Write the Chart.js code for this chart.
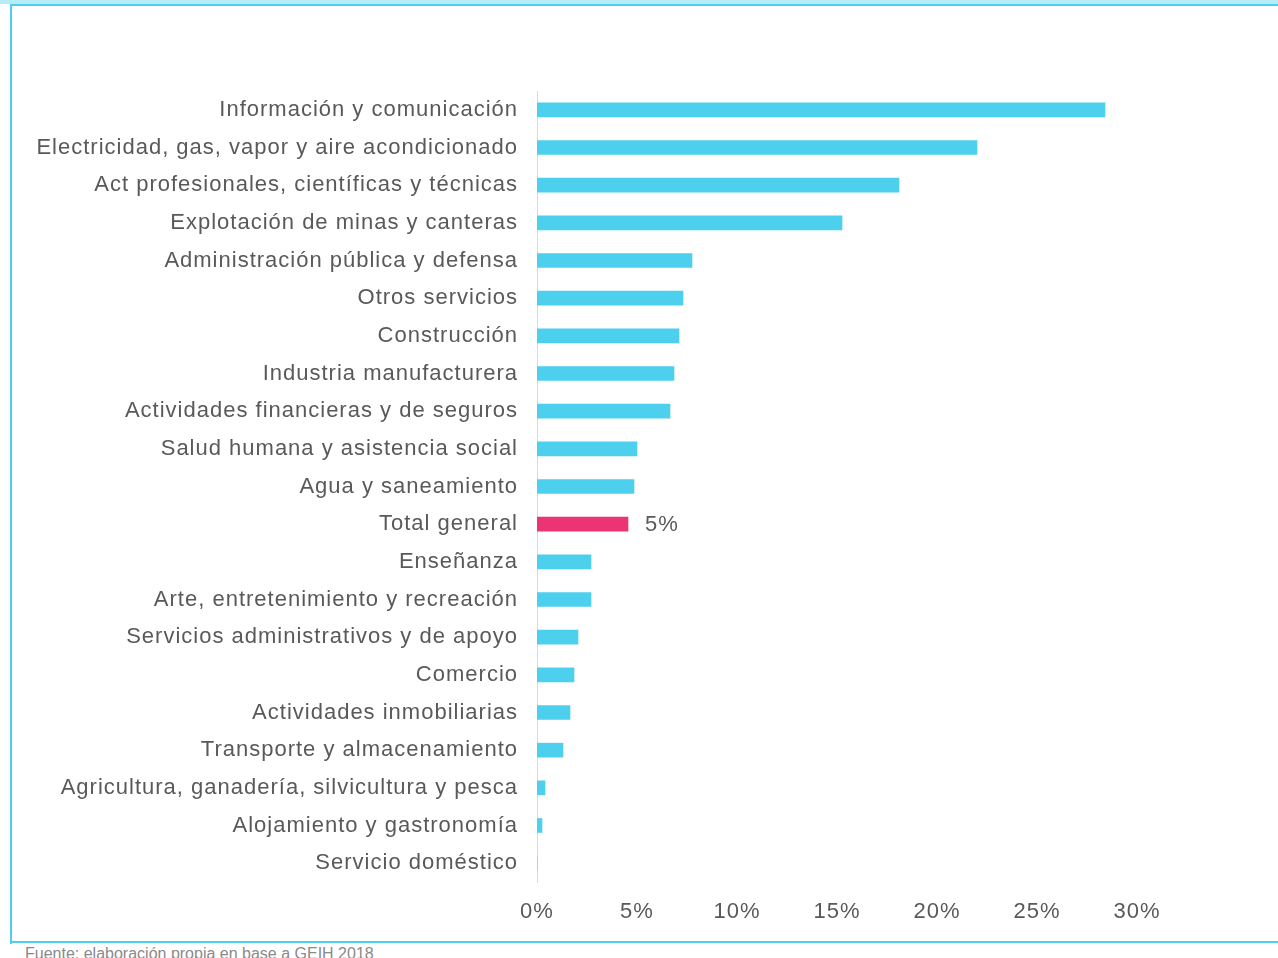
<!DOCTYPE html>
<html>
<head>
<meta charset="utf-8">
<script src="https://cdn.jsdelivr.net/npm/chart.js@4.4.0/dist/chart.umd.min.js"></script>
<style>
  html, body { margin: 0; padding: 0; background: #fff; overflow: hidden; }
  body { width: 1278px; height: 958px; position: relative; font-family: "Liberation Sans", Arial, sans-serif; }
  #topband { position: absolute; left: 0; top: 0; width: 1278px; height: 4px; background: #b5ecf8; }
  #topline { position: absolute; left: 10px; top: 4px; width: 1268px; height: 2px; background: #4dcfee; }
  #leftline { position: absolute; left: 10px; top: 4px; width: 2px; height: 940px; background: #4dcfee; }
  #bottomline { position: absolute; left: 10px; top: 941px; width: 1268px; height: 2px; background: #4dcfee; }
  #fuente { position: absolute; left: 25px; top: 945px; font-size: 16px; color: #8a8a8a; white-space: nowrap; }
  #wrap { position: absolute; left: 0; top: 0; width: 1278px; height: 940px; }
</style>
</head>
<body>
<div id="topband"></div>
<div id="topline"></div>
<div id="leftline"></div>
<div id="bottomline"></div>
<div id="wrap"><canvas id="myChart"></canvas></div>
<div id="fuente">Fuente: elaboración propia en base a GEIH 2018</div>
<script>
const sectores = [
  'Información y comunicación',
  'Electricidad, gas, vapor y aire acondicionado',
  'Act profesionales, científicas y técnicas',
  'Explotación de minas y canteras',
  'Administración pública y defensa',
  'Otros servicios',
  'Construcción',
  'Industria manufacturera',
  'Actividades financieras y de seguros',
  'Salud humana y asistencia social',
  'Agua y saneamiento',
  'Total general',
  'Enseñanza',
  'Arte, entretenimiento y recreación',
  'Servicios administrativos y de apoyo',
  'Comercio',
  'Actividades inmobiliarias',
  'Transporte y almacenamiento',
  'Agricultura, ganadería, silvicultura y pesca',
  'Alojamiento y gastronomía',
  'Servicio doméstico'
];
const porcentajes = [28.4, 22.0, 18.1, 15.25, 7.75, 7.3, 7.1, 6.85, 6.65, 5.0, 4.85, 4.55, 2.7, 2.7, 2.05, 1.85, 1.65, 1.3, 0.4, 0.25, 0];
const destacado = 'Total general';
const etiquetaDestacado = '5%';

const colores = sectores.map(s => s === destacado ? '#ec3374' : '#4dcfee');
const fuente = '"Liberation Sans", Arial, sans-serif';

// wider letter spacing like the original
const spacingPlugin = {
  id: 'spacing',
  beforeDraw(chart) { chart.ctx.letterSpacing = '1px'; }
};

// draw the "5%" label next to the highlighted bar
const labelPlugin = {
  id: 'labelDestacado',
  afterDatasetsDraw(chart) {
    const ctx = chart.ctx;
    const i = sectores.indexOf(destacado);
    const bar = chart.getDatasetMeta(0).data[i];
    ctx.save();
    ctx.font = '22px ' + fuente;
    ctx.fillStyle = '#595959';
    ctx.textBaseline = 'middle';
    ctx.fillText(etiquetaDestacado, bar.x + 17, bar.y + 1);
    ctx.restore();
  }
};

const ctx = document.getElementById('myChart').getContext('2d');
const myChart = new Chart(ctx, {
  type: 'bar',
  data: {
    labels: sectores,
    datasets: [{
      data: porcentajes,
      backgroundColor: colores,
      borderWidth: 0,
      barThickness: 14
    }]
  },
  options: {
    indexAxis: 'y',
    responsive: true,
    maintainAspectRatio: false,
    animation: false,
    layout: { padding: { top: 91, right: 141, left: 0, bottom: 0 } },
    plugins: {
      legend: { display: false },
      tooltip: { enabled: false }
    },
    scales: {
      x: {
        min: 0,
        max: 30,
        ticks: {
          stepSize: 5,
          padding: 9,
          color: '#595959',
          font: { size: 22, family: fuente },
          callback: v => v + '%'
        },
        grid: { display: false },
        border: { display: false },
        afterFit: s => { s.height = 58; }
      },
      y: {
        ticks: {
          padding: 11,
          color: '#595959',
          font: { size: 22, family: fuente }
        },
        grid: { display: false },
        border: { display: true, color: '#d9d9d9', width: 1 },
        afterFit: s => { s.width = 537; }
      }
    }
  },
  plugins: [spacingPlugin, labelPlugin]
});
</script>
</body>
</html>
